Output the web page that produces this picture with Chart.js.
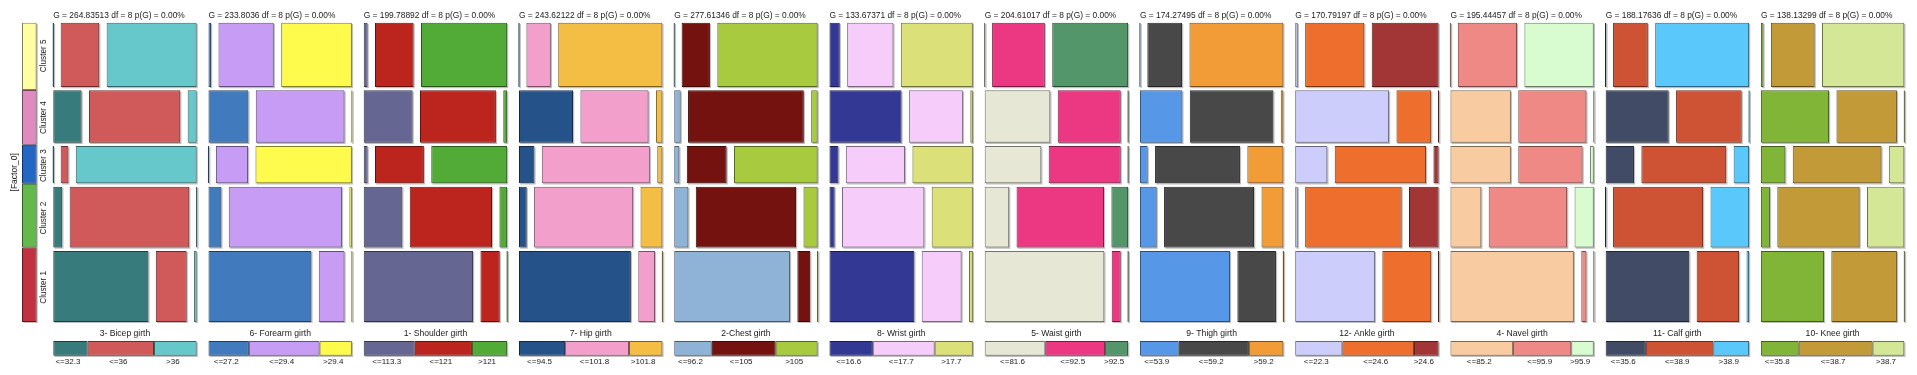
<!DOCTYPE html>
<html lang="en">
<head>
<meta charset="utf-8">
<title>Cluster mosaic</title>
<script src="https://cdn.jsdelivr.net/npm/chart.js@4.4.1/dist/chart.umd.min.js"></script>
<style>
html, body {margin: 0; padding: 0; background: #fff;}
#wrap {width: 1917px; height: 375px;}
</style>
</head>
<body>
<div id="wrap"><canvas id="mosaic" width="1917" height="375"></canvas></div>
<script>
// clusters, bottom to top
const clusters = ['Cluster 1', 'Cluster 2', 'Cluster 3', 'Cluster 4', 'Cluster 5'];
const clusterSizes = [126, 108, 66, 93, 114];

const variables = ['3- Bicep girth', '6- Forearm girth', '1- Shoulder girth', '7- Hip girth',
  '2-Chest girth', '8- Wrist girth', '5- Waist girth', '9- Thigh girth',
  '12- Ankle girth', '4- Navel girth', '11- Calf girth', '10- Knee girth'];
const gValues = ['264.83513', '233.8036', '199.78892', '243.62122', '277.61346', '133.67371',
  '204.61017', '174.27495', '170.79197', '195.44457', '188.17636', '138.13299'];
const binLabels = [
  ['<=32.3', '<=36', '>36'], ['<=27.2', '<=29.4', '>29.4'], ['<=113.3', '<=121', '>121'],
  ['<=94.5', '<=101.8', '>101.8'], ['<=96.2', '<=105', '>105'], ['<=16.6', '<=17.7', '>17.7'],
  ['<=81.6', '<=92.5', '>92.5'], ['<=53.9', '<=59.2', '>59.2'], ['<=22.3', '<=24.6', '>24.6'],
  ['<=85.2', '<=95.9', '>95.9'], ['<=35.6', '<=38.9', '>38.9'], ['<=35.8', '<=38.7', '>38.7']];

// % of each bin inside each cluster (cluster 1 .. cluster 5)
const bicepGirth    = [[74, 24, 2], [7, 93, 0], [0, 6, 94], [22, 71, 7], [0, 30, 70]];
const forearmGirth  = [[80, 20, 0], [10, 88, 2], [0, 25, 75], [31, 69, 0], [2, 43, 55]];
const shoulderGirth = [[85, 15, 0], [30, 64, 6], [3, 38, 59], [38, 59, 3], [3, 30, 67]];
const hipGirth      = [[87, 13, 0], [6, 77, 17], [12, 84, 4], [42, 53, 5], [0, 19, 81]];
const chestGirth    = [[90, 10, 0], [11, 78, 11], [4, 31, 65], [5, 90, 5], [0, 22, 78]];
const wristGirth    = [[66, 31, 3], [4, 64, 32], [7, 46, 47], [56, 42, 2], [8, 36, 56]];
const waistGirth    = [[93, 7, 0], [19, 68, 13], [44, 56, 0], [51, 49, 0], [0, 41, 59]];
const thighGirth    = [[70, 30, 0], [13, 70, 17], [6, 66, 28], [33, 65, 2], [0, 27, 73]];
const ankleGirth    = [[62, 38, 0], [2, 75, 23], [25, 71, 4], [73, 27, 0], [2, 46, 52]];
const navelGirth    = [[96, 4, 0], [24, 61, 15], [47, 50, 3], [47, 53, 0], [0, 46, 54]];
const calfGirth     = [[65, 33, 2], [0, 70, 30], [22, 66, 12], [49, 51, 0], [0, 27, 73]];
const kneeGirth     = [[49, 51, 0], [7, 64, 29], [19, 69, 12], [53, 47, 0], [2, 34, 64]];
const shares = [bicepGirth, forearmGirth, shoulderGirth, hipGirth, chestGirth, wristGirth,
  waistGirth, thighGirth, ankleGirth, navelGirth, calfGirth, kneeGirth];

// colours
const clusterColors = ['#c03240', '#64b94c', '#2466c4', '#df8bc0', '#fffea3'];
const binColors = [
  ['#377b7c', '#d05a5a', '#66c8ca'], ['#417bbd', '#c69cf5', '#fffb4d'], ['#666693', '#bc251d', '#53ab37'],
  ['#26528a', '#f2a0cb', '#f4be45'], ['#8fb3d6', '#73120f', '#a7ca3f'], ['#333894', '#f6cdfa', '#dce079'],
  ['#e6e7d4', '#ec3783', '#52966a'], ['#5797e7', '#484848', '#f29c37'], ['#cccdfa', '#ee6f2d', '#a23535'],
  ['#f8cca0', '#ef8985', '#d8fcd0'], ['#414b66', '#ce5234', '#5ac8fa'], ['#80b538', '#c29a37', '#d4e797']];

// layout (panel width = 1 unit on x, cluster counts on y)
const STRIDE = 1.0826, GAP = 0.0516;
const STRIP_X0 = -0.218, STRIP_X1 = -0.116;
const ROW_GAP = 6;
const LEGEND_Y0 = -60, LEGEND_Y1 = -34;
const FONT = '"Liberation Sans", Arial, sans-serif';

const rowY0 = [];
let acc = 0;
clusterSizes.forEach(n => { rowY0.push(acc); acc += n + ROW_GAP; });
const MOSAIC_TOP = acc - ROW_GAP;
const total = clusterSizes.reduce((a, b) => a + b, 0);

// marginal share of each bin, used by the bottom legend bars
const margins = shares.map(rows => {
  const tot = [0, 0, 0];
  rows.forEach((r, k) => {
    const s = r[0] + r[1] + r[2];
    r.forEach((v, c) => { tot[c] += v / s * clusterSizes[k]; });
  });
  return tot.map(v => v / total);
});

function darken(hex) {
  const n = parseInt(hex.slice(1), 16);
  const f = 0.5;
  return 'rgb(' + Math.round((n >> 16) * f) + ',' + Math.round(((n >> 8) & 255) * f) + ',' + Math.round((n & 255) * f) + ')';
}

// bars with their own width and height, drawn by the normal bar element
class MosaicController extends Chart.BarController {
  updateElements(rects, start, count, mode) {
    const xs = this.chart.scales.x, ys = this.chart.scales.y;
    const ds = this.getDataset();
    const shift = ds.shadowShift || 0;
    for (let i = start; i < start + count; i++) {
      const d = ds.data[i];
      let left = xs.getPixelForValue(d.x0), right = xs.getPixelForValue(d.x1);
      if (right - left < 1.4) {
        const c = (left + right) / 2;
        left = c - 0.7; right = c + 0.7;
      }
      const top = ys.getPixelForValue(d.y1), bottom = ys.getPixelForValue(d.y0);
      this.updateElement(rects[i], i, {
        horizontal: true,
        base: left + shift, x: right + shift,
        y: (top + bottom) / 2 + shift, height: bottom - top, width: right - left,
        inflateAmount: 0, enableBorderRadius: false,
        borderSkipped: {top: false, bottom: false, left: false, right: false},
        options: this.resolveDataElementOptions(i, mode)
      }, mode);
    }
  }
  draw() {
    const ctx = this._ctx;
    this._cachedMeta.data.forEach(r => r.draw(ctx));
  }
}
MosaicController.id = 'mosaic';
Chart.register(MosaicController);

const datasets = [];
function addRects(pts, fills) {
  datasets.push({type: 'mosaic', data: pts, backgroundColor: fills, borderColor: fills.map(darken),
    borderWidth: 1, clip: false, order: 0});
  datasets.push({type: 'mosaic', data: pts.map(o => ({...o})), backgroundColor: 'rgba(0,0,0,0.25)',
    borderWidth: 0, shadowShift: 1.2, clip: false, order: 1});
}

shares.forEach((rows, p) => {
  const pts = [], fills = [];
  const left = p * STRIDE, avail = 1 - 2 * GAP;
  rows.forEach((r, k) => {
    const s = r.reduce((a, b) => a + b, 0);
    let pos = left;
    r.forEach((v, c) => {
      const w = v / s * avail;
      pts.push({x0: pos, x1: pos + w, y0: rowY0[k], y1: rowY0[k] + clusterSizes[k]});
      fills.push(binColors[p][c]);
      pos += w + GAP;
    });
  });
  let pos = left;
  margins[p].forEach((m, c) => {
    pts.push({x0: pos, x1: pos + m, y0: LEGEND_Y0, y1: LEGEND_Y1});
    fills.push(binColors[p][c]);
    pos += m;
  });
  addRects(pts, fills);
});

// cluster strip on the left
(function () {
  const pts = [];
  let y = 0;
  clusterSizes.forEach(n => {
    const h = n / total * MOSAIC_TOP;
    pts.push({x0: STRIP_X0, x1: STRIP_X1, y0: y, y1: y + h});
    y += h;
  });
  addRects(pts, clusterColors);
})();

const labelPlugin = {
  id: 'mosaicLabels',
  afterDatasetsDraw(chart) {
    const {ctx, scales: {x, y}} = chart;
    ctx.save();
    ctx.fillStyle = '#1a1a1a';
    ctx.textBaseline = 'middle';
    const top = y.getPixelForValue(MOSAIC_TOP);
    const lTop = y.getPixelForValue(LEGEND_Y1), lBot = y.getPixelForValue(LEGEND_Y0);
    variables.forEach((name, p) => {
      const x0 = x.getPixelForValue(p * STRIDE), x1 = x.getPixelForValue(p * STRIDE + 1);
      ctx.textAlign = 'left';
      ctx.font = '8.4px ' + FONT;
      ctx.fillText('G = ' + gValues[p] + ' df = 8 p(G) = 0.00%', x0, top - 7.5);
      ctx.textAlign = 'center';
      ctx.font = '8.6px ' + FONT;
      ctx.fillText(name, (x0 + x1) / 2, lTop - 7);
      ctx.font = '8px ' + FONT;
      let cum = 0;
      margins[p].forEach((m, c) => {
        const cx = x.getPixelForValue(p * STRIDE + cum + m / 2);
        ctx.fillText(binLabels[p][c], cx - 2.5, lBot + 6.5);
        cum += m;
      });
    });
    const sx0 = x.getPixelForValue(STRIP_X0), sx1 = x.getPixelForValue(STRIP_X1);
    ctx.textAlign = 'center';
    ctx.font = '8.2px ' + FONT;
    clusters.forEach((name, k) => {
      const cy = y.getPixelForValue(rowY0[k] + clusterSizes[k] / 2);
      ctx.save();
      ctx.translate(sx1 + 7, cy + 1);
      ctx.rotate(-Math.PI / 2);
      ctx.fillText(name, 0, 0);
      ctx.restore();
    });
    ctx.font = '8.5px ' + FONT;
    ctx.translate(sx0 - 7, y.getPixelForValue(MOSAIC_TOP / 2));
    ctx.rotate(-Math.PI / 2);
    ctx.fillText('[Factor_0]', 0, 0);
    ctx.restore();
  }
};

new Chart(document.getElementById('mosaic'), {
  type: 'scatter',
  data: {datasets: datasets},
  options: {
    responsive: false,
    animation: false,
    events: [],
    layout: {padding: {left: 22, right: 12.7, top: 22.7, bottom: 19.3}},
    scales: {
      x: {type: 'linear', display: false, offset: false, beginAtZero: false, grid: {offset: false},
        min: STRIP_X0, max: 11 * STRIDE + 1},
      y: {type: 'linear', display: false, offset: false, beginAtZero: false, grid: {offset: false},
        min: LEGEND_Y0, max: MOSAIC_TOP}
    },
    plugins: {legend: {display: false}, tooltip: {enabled: false}}
  },
  plugins: [labelPlugin]
});
</script>
</body>
</html>
